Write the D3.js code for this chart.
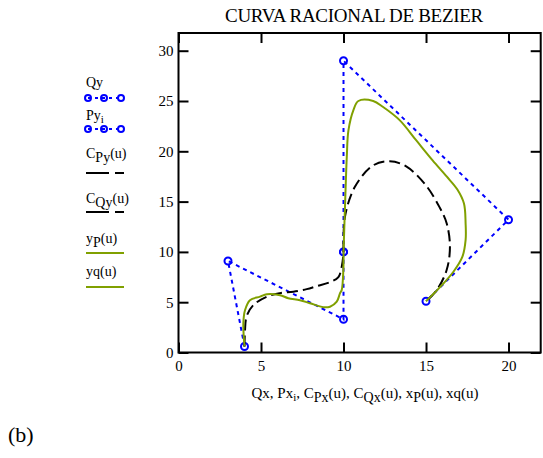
<!DOCTYPE html>
<html><head><meta charset="utf-8">
<script src="https://cdn.jsdelivr.net/npm/d3@7"></script>
<style>body{margin:0;background:#fff}svg{display:block;font-family:"Liberation Serif","Times New Roman",serif}</style>
</head><body><svg id="c" width="543" height="458"></svg>
<script>
// Control polygons
const Qx = [4, 3, 10, 10];
const Qy = [0.6, 9.1, 3.3, 10];
const Px = [10, 10, 20, 15];
const Py = [10, 29, 13.2, 5.1];
// Rational Bezier curves
const CPx = [10.0, 10.09, 10.7, 11.8, 12.8, 13.8, 15.0, 15.8, 16.25, 16.45, 16.25, 15.65, 15.0];
const CPy = [10.0, 13.5, 16.5, 18.6, 19.0, 18.5, 16.6, 14.5, 12.85, 10.5, 8.2, 6.2, 5.1];
const CQx = [4.0, 4.03, 4.13, 4.53, 5.35, 6.15, 6.96, 7.77, 8.38, 9.18, 9.69, 9.89, 9.99, 10.0];
const CQy = [0.6, 2.2, 3.6, 4.7, 5.55, 5.9, 6.05, 6.3, 6.6, 7.0, 7.5, 8.5, 9.7, 10.0];
const xPu = [10.0, 10.1, 10.2, 10.3, 10.6, 10.9, 11.8, 12.4, 13.4, 14.4, 15.4, 16.25, 16.9, 17.3, 17.4, 17.4, 17.2, 16.65, 15.85, 15.0];
const yPu = [10.0, 15.0, 19.5, 22.1, 24.1, 25.0, 25.0, 24.4, 23.1, 21.1, 19.1, 17.5, 16.2, 14.8, 12.8, 11.2, 9.5, 8.0, 6.5, 5.1];
const xqu = [4.0, 3.93, 4.03, 4.33, 4.94, 5.35, 6.15, 6.65, 7.36, 7.97, 8.78, 9.18, 9.59, 9.79, 9.89, 9.99, 10.0];
const yqu = [0.6, 2.9, 4.2, 5.2, 5.55, 5.8, 5.7, 5.4, 5.2, 4.9, 4.5, 4.55, 5.05, 5.9, 6.2, 8.2, 10.0];
const xTicks = [0, 5, 10, 15, 20];
const yTicks = [0, 5, 10, 15, 20, 25, 30];
const xDomain = [0, 21.95];
const yDomain = [0, 31.76];

const svg = d3.select("#c");
const L = 178.5, R = 540.7, T = 33, B = 352.5;
const x = d3.scaleLinear().domain(xDomain).range([L, R]);
const y = d3.scaleLinear().domain(yDomain).range([B, T]);
const BLUE = "#0000ff", GREEN = "#80a000";

// Title
svg.append("text").attr("x", 354).attr("y", 22).attr("text-anchor", "middle")
  .attr("font-size", 19).attr("letter-spacing", -0.3).text("CURVA RACIONAL DE BEZIER");

// Axes
const fmt = d3.format("d");
const gb = svg.append("g").attr("transform", `translate(0,${B})`)
  .call(d3.axisBottom(x).tickValues(xTicks).tickSize(-10).tickPadding(8).tickFormat(fmt));
const gt = svg.append("g").attr("transform", `translate(0,${T})`)
  .call(d3.axisTop(x).tickValues(xTicks).tickSize(-10).tickFormat(""));
const gl = svg.append("g").attr("transform", `translate(${L},0)`)
  .call(d3.axisLeft(y).tickValues(yTicks).tickSize(-10).tickPadding(5).tickFormat(fmt));
const gr = svg.append("g").attr("transform", `translate(${R},0)`)
  .call(d3.axisRight(y).tickValues(yTicks).tickSize(-10).tickFormat(""));
[gb, gt, gl, gr].forEach(g => {
  g.select(".domain").remove();
  g.selectAll(".tick line").attr("stroke", "#000").attr("stroke-width", 2);
  g.selectAll(".tick text").attr("font-size", 15).attr("font-family", "Liberation Serif").attr("fill", "#000");
});
svg.append("rect").attr("x", L).attr("y", T).attr("width", R - L).attr("height", B - T)
  .attr("fill", "none").attr("stroke", "#000").attr("stroke-width", 2);

// Data lines
const zip = (xs, ys) => xs.map((v, i) => [v, ys[i]]);
const lin = d3.line().x(d => x(d[0])).y(d => y(d[1]));
const smooth = d3.line().x(d => x(d[0])).y(d => y(d[1])).curve(d3.curveCatmullRom.alpha(0.5));
const plot = svg.append("g");

function poly(xs, ys) {
  plot.append("path").attr("d", lin(zip(xs, ys))).attr("fill", "none")
    .attr("stroke", BLUE).attr("stroke-width", 2).attr("stroke-dasharray", "4,4");
  plot.selectAll(null).data(zip(xs, ys)).enter().append("circle")
    .attr("cx", d => x(d[0])).attr("cy", d => y(d[1])).attr("r", 3.5)
    .attr("fill", "none").attr("stroke", BLUE).attr("stroke-width", 2);
}
poly(Qx, Qy);
poly(Px, Py);
plot.append("path").attr("d", smooth(zip(CPx, CPy))).attr("fill", "none")
  .attr("stroke", "#000").attr("stroke-width", 2).attr("stroke-dasharray", "11,5");
plot.append("path").attr("d", smooth(zip(CQx, CQy))).attr("fill", "none")
  .attr("stroke", "#000").attr("stroke-width", 2).attr("stroke-dasharray", "11,5");
plot.append("path").attr("d", smooth(zip(xPu, yPu))).attr("fill", "none")
  .attr("stroke", GREEN).attr("stroke-width", 2);
plot.append("path").attr("d", smooth(zip(xqu, yqu))).attr("fill", "none")
  .attr("stroke", GREEN).attr("stroke-width", 2);

// Legend
const lg = svg.append("g").attr("font-size", 14);
function label(yb, parts) {
  const t = lg.append("text").attr("x", 86).attr("y", yb);
  parts.forEach(p => {
    const s = t.append("tspan").text(p[0]);
    if (p[1]) s.attr("dy", p[1]);
    if (p[2]) s.attr("font-size", p[2]);
  });
}
function markerRow(yc) {
  lg.append("line").attr("x1", 88).attr("x2", 121).attr("y1", yc).attr("y2", yc)
    .attr("stroke", BLUE).attr("stroke-width", 2).attr("stroke-dasharray", "3,4");
  [88, 104, 121].forEach(cx => lg.append("circle").attr("cx", cx).attr("cy", yc).attr("r", 3)
    .attr("fill", "none").attr("stroke", BLUE).attr("stroke-width", 2));
}
function lineRow(yc, color, dash) {
  const l = lg.append("line").attr("x1", 86).attr("x2", 124).attr("y1", yc).attr("y2", yc)
    .attr("stroke", color).attr("stroke-width", 2);
  if (dash) l.attr("stroke-dasharray", dash);
}
label(87, [["Qy"]]);
markerRow(98);
label(120, [["Py"], ["i", 3, 11]]);
markerRow(129);
label(158, [["C"], ["Py", 4], ["(u)", -4]]);
lineRow(173, "#000", "23,6");
label(203, [["C"], ["Qy", 4], ["(u)", -4]]);
lineRow(212, "#000", "23,6");
label(243, [["y"], ["P", 4], ["(u)", -4]]);
lineRow(253, GREEN);
label(276, [["yq(u)"]]);
lineRow(287, GREEN);

// X axis title
const xt = svg.append("text").attr("x", 365).attr("y", 398).attr("text-anchor", "middle").attr("font-size", 15);
[["Qx, Px"], ["i", 3, 11], [", C", -3], ["Px", 4, 14], ["(u), C", -4], ["Qx", 4, 14], ["(u), x", -4], ["P", 4, 14], ["(u), xq(u)", -4]]
  .forEach(p => { const s = xt.append("tspan").text(p[0]); if (p[1]) s.attr("dy", p[1]); if (p[2]) s.attr("font-size", p[2]); });

svg.append("text").attr("x", 8).attr("y", 442).attr("font-size", 22).text("(b)");
</script></body></html>
